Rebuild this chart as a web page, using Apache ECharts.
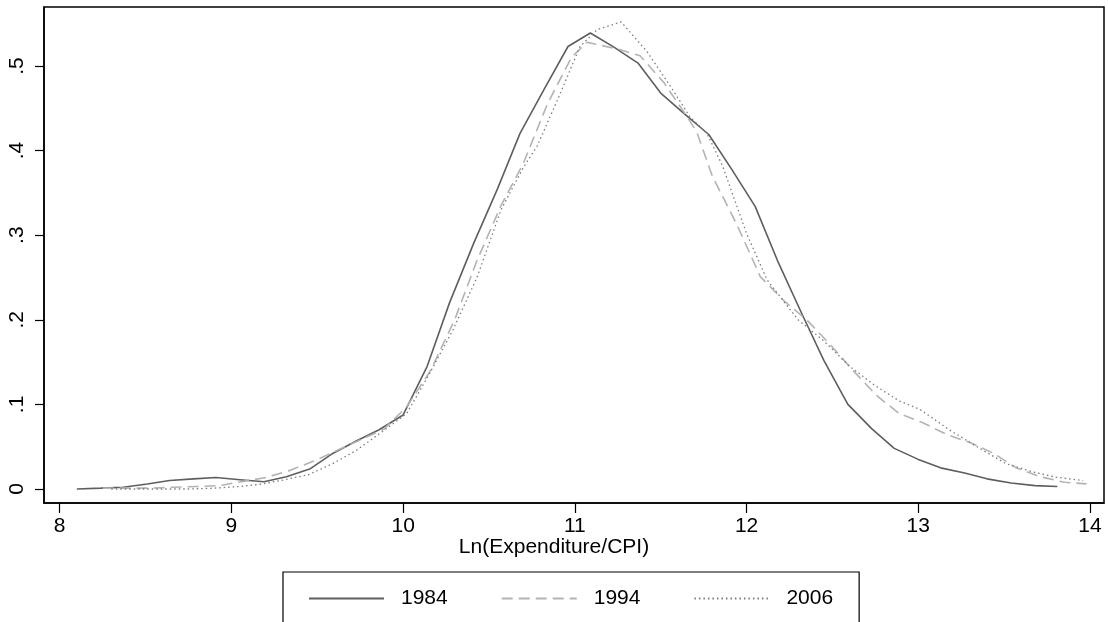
<!DOCTYPE html>
<html><head><meta charset="utf-8">
<script src="https://cdn.jsdelivr.net/npm/echarts@6/dist/echarts.min.js"></script>
<style>html,body{margin:0;padding:0;background:#fff}#c{width:1108px;height:622px}</style>
</head><body><div id="c"></div>
<script>
const seriesNames = ['1984', '1994', '2006'];
const xTicks = [8, 9, 10, 11, 12, 13, 14];
const yTicks = [0, 0.1, 0.2, 0.3, 0.4, 0.5];
const yTickLabels = ['0', '.1', '.2', '.3', '.4', '.5'];
const xTitle = 'Ln(Expenditure/CPI)';

const d1984 = [[8.10,0.000],[8.24,0.001],[8.37,0.002],[8.51,0.006],[8.64,0.010],[8.78,0.012],[8.91,0.0135],[9.05,0.011],[9.19,0.0085],[9.32,0.0145],[9.46,0.024],[9.59,0.042],[9.73,0.057],[9.86,0.070],[10.00,0.0875],[10.14,0.145],[10.27,0.22],[10.41,0.29],[10.55,0.355],[10.68,0.42],[10.82,0.472],[10.96,0.523],[11.09,0.539],[11.23,0.522],[11.37,0.503],[11.50,0.468],[11.64,0.443],[11.78,0.419],[11.91,0.379],[12.05,0.334],[12.18,0.27],[12.32,0.208],[12.45,0.152],[12.59,0.100],[12.73,0.071],[12.86,0.048],[13.00,0.035],[13.13,0.025],[13.27,0.019],[13.40,0.012],[13.54,0.007],[13.68,0.004],[13.81,0.003]];
const d1994 = [[8.25,0.001],[8.39,0.001],[8.52,0.001],[8.66,0.002],[8.80,0.003],[8.93,0.004],[9.07,0.009],[9.21,0.014],[9.34,0.022],[9.48,0.033],[9.62,0.046],[9.75,0.058],[9.89,0.071],[10.02,0.097],[10.16,0.14],[10.30,0.20],[10.43,0.27],[10.57,0.335],[10.70,0.385],[10.84,0.455],[10.98,0.51],[11.07,0.528],[11.25,0.52],[11.38,0.512],[11.52,0.48],[11.66,0.438],[11.71,0.422],[11.80,0.37],[11.94,0.314],[12.08,0.251],[12.22,0.222],[12.35,0.20],[12.49,0.17],[12.62,0.14],[12.76,0.11],[12.89,0.089],[13.03,0.078],[13.17,0.064],[13.30,0.055],[13.44,0.042],[13.57,0.025],[13.71,0.0145],[13.85,0.008],[13.98,0.006]];
const d2006 = [[8.30,0.000],[8.45,0.000],[8.60,0.000],[8.75,0.000],[8.90,0.001],[9.05,0.003],[9.18,0.006],[9.30,0.0106],[9.45,0.017],[9.59,0.030],[9.73,0.046],[9.88,0.068],[10.02,0.089],[10.15,0.135],[10.29,0.188],[10.43,0.25],[10.57,0.33],[10.70,0.38],[10.78,0.405],[10.91,0.465],[11.03,0.523],[11.13,0.543],[11.27,0.552],[11.42,0.517],[11.56,0.475],[11.67,0.44],[11.77,0.42],[11.86,0.382],[12.00,0.302],[12.12,0.247],[12.30,0.20],[12.45,0.175],[12.60,0.145],[12.75,0.122],[12.89,0.104],[13.01,0.094],[13.11,0.080],[13.18,0.070],[13.31,0.054],[13.40,0.043],[13.51,0.030],[13.67,0.020],[13.80,0.014],[13.96,0.010]];

const FONT = 'Liberation Sans, Arial, sans-serif';
const chart = echarts.init(document.getElementById('c'), null, {renderer: 'canvas'});
chart.setOption({
  animation: false,
  backgroundColor: '#fff',
  grid: {left: 44, right: 4, top: 7, bottom: 119, show: true, borderColor: '#000', borderWidth: 1.5, containLabel: false},
  xAxis: {
    type: 'value', min: 7.9085, max: 14.0816,
    axisLine: {show: true, onZero: false, lineStyle: {color: '#000', width: 1.5}},
    axisTick: {show: true, customValues: xTicks, length: 10, lineStyle: {color: '#000', width: 1.2}},
    axisLabel: {customValues: xTicks, color: '#000', fontFamily: FONT, fontSize: 21, margin: 13},
    splitLine: {show: false}
  },
  yAxis: {
    type: 'value', min: -0.01655, max: 0.5697,
    axisLine: {show: true, onZero: false, lineStyle: {color: '#000', width: 1.5}},
    axisTick: {show: true, customValues: yTicks, length: 9, lineStyle: {color: '#000', width: 1.2}},
    axisLabel: {customValues: yTicks, rotate: 90, color: '#000', fontFamily: FONT, fontSize: 21, margin: 16,
      formatter: v => yTickLabels[yTicks.findIndex(t => Math.abs(t - v) < 1e-9)]},
    splitLine: {show: false}
  },
  legend: {
    show: true, left: 283, top: 572, orient: 'horizontal',
    borderColor: '#000', borderWidth: 1.2, padding: [16, 26, 40, 25],
    itemWidth: 75, itemHeight: 14, itemGap: 53,
    itemStyle: {color: 'rgba(0,0,0,0)', borderWidth: 0, opacity: 0},
    textStyle: {color: '#000', fontFamily: FONT, fontSize: 21, padding: [0, 0, 0, 12]},
    data: seriesNames
  },
  graphic: [{
    type: 'text', left: 'center', top: 537,
    style: {text: xTitle, fill: '#000', font: '21px ' + FONT, textAlign: 'center'}
  }],
  series: [
    {name: seriesNames[0], type: 'line', data: d1984, showSymbol: false, symbol: 'none',
      lineStyle: {color: '#5e5e5e', width: 1.6, type: 'solid'}, itemStyle: {color: '#5e5e5e'}},
    {name: seriesNames[1], type: 'line', data: d1994, showSymbol: false, symbol: 'none',
      lineStyle: {color: '#b3b3b3', width: 1.6, type: [11, 6]}, itemStyle: {color: '#b3b3b3'}},
    {name: seriesNames[2], type: 'line', data: d2006, showSymbol: false, symbol: 'none',
      lineStyle: {color: '#7c7c7c', width: 1.3, type: [1.5, 3]}, itemStyle: {color: '#7c7c7c'}}
  ]
});
</script></body></html>
